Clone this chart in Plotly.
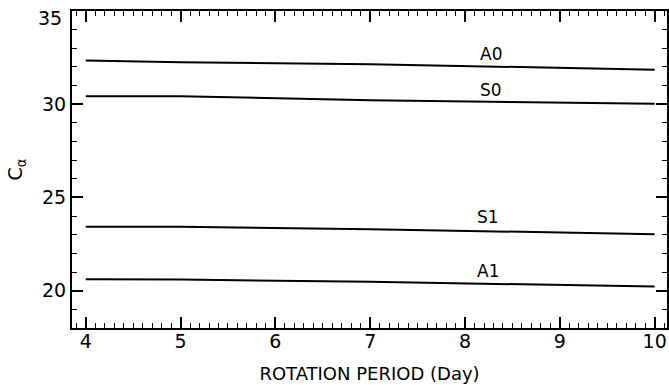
import plotly.graph_objects as go

period = [4, 5, 7, 10]
A0 = [32.35, 32.25, 32.15, 31.85]
S0 = [30.43, 30.43, 30.22, 30.02]
S1 = [23.43, 23.43, 23.30, 23.03]
A1 = [20.61, 20.60, 20.48, 20.22]

labels = ["A0", "S0", "S1", "A1"]
label_x = [8.27, 8.27, 8.24, 8.24]
label_y = [32.69, 30.76, 23.95, 21.06]

x_ticks = [4, 5, 6, 7, 8, 9, 10]
y_ticks = [20, 25, 30, 35]
y_ticklabels = ["20", "25", "30", "35"]

FONT = "DejaVu Sans"

fig = go.Figure()
for series in (A0, S0, S1, A1):
    fig.add_trace(go.Scatter(x=period, y=series, mode="lines",
                             line=dict(color="black", width=2),
                             showlegend=False, hoverinfo="skip"))

for t, xx, yy in zip(labels, label_x, label_y):
    fig.add_annotation(x=xx, y=yy, text=t, showarrow=False,
                       font=dict(family=FONT, size=17, color="black"))

# top y tick label drawn as annotation (pushed inside the page like the reference)
fig.add_annotation(x=0, xref="paper", xanchor="right", xshift=-8,
                   y=y_ticks[-1], yref="y", yshift=-7,
                   text=y_ticklabels[-1], showarrow=False,
                   font=dict(family=FONT, size=19, color="black"))

fig.update_layout(
    width=669, height=385,
    margin=dict(l=72, r=0, t=11, b=57),
    paper_bgcolor="white", plot_bgcolor="white",
    font=dict(family=FONT, size=19, color="black"),
    showlegend=False,
)

fig.update_xaxes(
    range=[3.855, 10.13], tickvals=x_ticks, ticktext=[str(v) for v in x_ticks],
    ticks="inside", ticklen=11, tickwidth=1.5, tickcolor="black",
    showline=True, linecolor="black", linewidth=2, mirror="ticks",
    showgrid=False, zeroline=False, ticklabelstandoff=-5,
    minor=dict(dtick=0.1, tick0=0, ticks="inside", ticklen=5, tickwidth=1.2,
               tickcolor="black", showgrid=False),
    title=dict(text="ROTATION PERIOD (Day)", standoff=17,
               font=dict(family=FONT, size=18)),
    tickfont=dict(family=FONT, size=19),
)

fig.update_yaxes(
    range=[18, 35], tickvals=y_ticks, ticktext=y_ticklabels[:-1] + [""],
    ticks="inside", ticklen=11, tickwidth=1.5, tickcolor="black",
    showline=True, linecolor="black", linewidth=2, mirror="ticks",
    showgrid=False, zeroline=False, ticklabelstandoff=0,
    minor=dict(dtick=1, tick0=0, ticks="inside", ticklen=5, tickwidth=1.2,
               tickcolor="black", showgrid=False),
    title=dict(text="C<sub>α</sub>", standoff=14,
               font=dict(family=FONT, size=19)),
    tickfont=dict(family=FONT, size=19),
)

fig.write_html("out.html", config={"displayModeBar": False},
               post_script="document.body.style.margin='0';document.body.style.overflow='hidden';")
